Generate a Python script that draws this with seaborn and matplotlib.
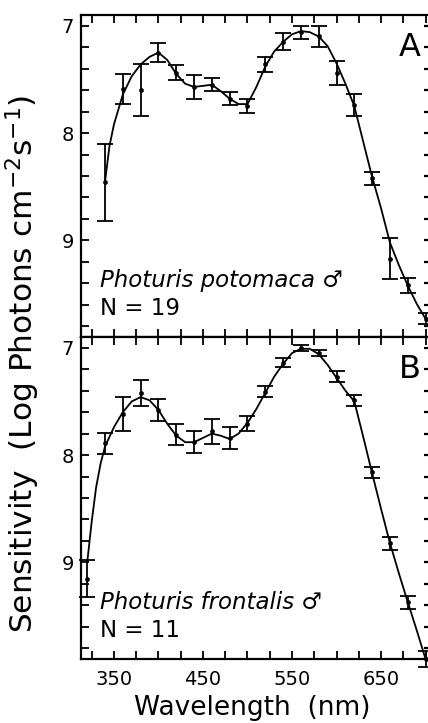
import matplotlib
matplotlib.use("Agg")
import matplotlib.pyplot as plt
import seaborn as sns
import numpy as np

# ---- data: panel A (Photuris potomaca) ----
wl_A = [340, 360, 380, 400, 420, 440, 460, 480, 500, 520, 540, 560, 580, 600, 620, 640, 660, 680, 700]
sens_A = [8.46, 7.59, 7.60, 7.25, 7.44, 7.57, 7.55, 7.68, 7.75, 7.36, 7.15, 7.06, 7.10, 7.44, 7.74, 8.42, 9.17, 9.42, 9.73]
err_A = [0.36, 0.14, 0.24, 0.09, 0.07, 0.11, 0.06, 0.06, 0.065, 0.07, 0.08, 0.06, 0.10, 0.11, 0.10, 0.06, 0.19, 0.07, 0.05]
curve_wl_A = [340, 345, 350, 360, 370, 380, 390, 400, 410, 420, 430, 440, 450, 460, 470, 480, 490, 500,
              510, 520, 530, 540, 550, 560, 570, 580, 590, 600, 610, 620, 630, 640, 650, 660, 670, 680, 690, 700]
curve_A = [8.45, 8.12, 7.92, 7.64, 7.47, 7.36, 7.29, 7.25, 7.32, 7.45, 7.54, 7.57, 7.56, 7.55, 7.61, 7.68, 7.73, 7.73,
           7.57, 7.38, 7.24, 7.15, 7.08, 7.05, 7.06, 7.10, 7.19, 7.35, 7.54, 7.75, 8.08, 8.41, 8.70, 9.02, 9.23, 9.42, 9.59, 9.73]

# ---- data: panel B (Photuris frontalis) ----
wl_B = [320, 340, 360, 380, 400, 420, 440, 460, 480, 500, 520, 540, 560, 580, 600, 620, 640, 660, 680, 700]
sens_B = [9.15, 7.89, 7.62, 7.42, 7.58, 7.81, 7.88, 7.78, 7.84, 7.71, 7.41, 7.14, 7.00, 7.05, 7.27, 7.49, 8.16, 8.82, 9.37, 9.90]
err_B = [0.17, 0.10, 0.16, 0.12, 0.10, 0.10, 0.10, 0.12, 0.10, 0.07, 0.05, 0.04, 0.03, 0.03, 0.05, 0.05, 0.05, 0.06, 0.06, 0.07]
curve_wl_B = [320, 325, 330, 335, 340, 350, 360, 370, 380, 390, 400, 410, 420, 430, 440, 450, 460, 470, 480, 490, 500,
              510, 520, 530, 540, 550, 560, 570, 580, 590, 600, 610, 620, 630, 640, 650, 660, 670, 680, 690, 700]
curve_B = [9.00, 8.62, 8.30, 8.08, 7.92, 7.74, 7.60, 7.50, 7.46, 7.49, 7.58, 7.71, 7.82, 7.88, 7.88, 7.84, 7.80, 7.82, 7.85, 7.80, 7.70,
           7.57, 7.42, 7.27, 7.15, 7.05, 7.01, 7.01, 7.06, 7.16, 7.28, 7.40, 7.50, 7.83, 8.17, 8.50, 8.82, 9.10, 9.37, 9.63, 9.90]

x_major = [350, 450, 550, 650]
y_major = [7, 8, 9]
species = ["Photuris potomaca \u2642", "Photuris frontalis \u2642"]
n_labels = ["N = 19", "N = 11"]
panel_letters = ["A", "B"]

sns.set_theme(style="ticks")
plt.rcParams["font.family"] = ["DejaVu Sans"]
plt.rcParams["text.color"] = "black"
plt.rcParams["axes.labelcolor"] = "black"
plt.rcParams["xtick.color"] = "black"
plt.rcParams["ytick.color"] = "black"

fig = plt.figure(figsize=(4.28, 7.23), dpi=100)
L = 81 / 428
W = (430 - 81) / 428
axA = fig.add_axes([L, 1 - 337 / 723, W, 322 / 723])
axB = fig.add_axes([L, 1 - 659 / 723, W, 322 / 723])

panels = [
    (axA, wl_A, sens_A, err_A, curve_wl_A, curve_A),
    (axB, wl_B, sens_B, err_B, curve_wl_B, curve_B),
]

for i, (ax, wl, s, e, cwl, c) in enumerate(panels):
    sns.lineplot(x=cwl, y=c, ax=ax, color="black", lw=1.3, sort=False, estimator=None)
    ax.errorbar(wl, s, yerr=e, fmt="none", ecolor="black", elinewidth=1.3, capsize=5.5,
                capthick=1.3, clip_on=False, zorder=3)
    sns.scatterplot(x=wl, y=s, ax=ax, color="black", s=10, edgecolor="black", zorder=4, clip_on=False)
    ax.set_xlim(313, 705)
    ax.set_ylim(9.9, 6.9)
    ax.set_xticks(x_major)
    ax.set_xticks(np.arange(325, 701, 25), minor=True)
    ax.set_yticks(y_major)
    ax.set_yticks(np.arange(7.0, 9.81, 0.2), minor=True)
    ax.tick_params(axis="both", which="both", direction="in", top=True, right=False,
                   length=6, width=1.3, color="black", labelsize=14, labelcolor="black")
    ax.tick_params(axis="y", which="both", pad=5)
    for sp in ax.spines.values():
        sp.set_linewidth(1.6)
        sp.set_color("black")
    ax.spines["right"].set_visible(False)
    ax.set_xlabel("")
    ax.set_ylabel("")
    sec = ax.secondary_yaxis("right")
    sec.spines["right"].set_visible(False)
    sec.set_yticks(np.arange(7.0, 9.81, 0.2))
    sec.set_yticklabels([])
    sec.tick_params(direction="in", length=4.5, width=1.6, color="black")
    ax.text(0.054, 0.177, species[i], transform=ax.transAxes, fontsize=16.5, style="italic",
            ha="left", va="center", color="black")
    ax.text(0.054, 0.09, n_labels[i], transform=ax.transAxes, fontsize=16.5,
            ha="left", va="center", color="black")
    ax.text(0.943, 0.90, panel_letters[i], transform=ax.transAxes, fontsize=23,
            ha="center", va="center", color="black")

axA.tick_params(axis="x", labelbottom=False)
axB.set_xticklabels([str(v) for v in x_major])
axB.tick_params(axis="x", pad=8)

fig.text(252 / 428, 1 - 708 / 723, "Wavelength  (nm)", fontsize=19, ha="center", va="center",
         color="black")
fig.text(23 / 428, 1 - 364 / 723, "Sensitivity  (Log Photons cm$^{-2}$s$^{-1}$)", fontsize=22.5,
         rotation=90, ha="center", va="center", color="black")

fig.savefig("out.png", dpi=100, facecolor="white")
